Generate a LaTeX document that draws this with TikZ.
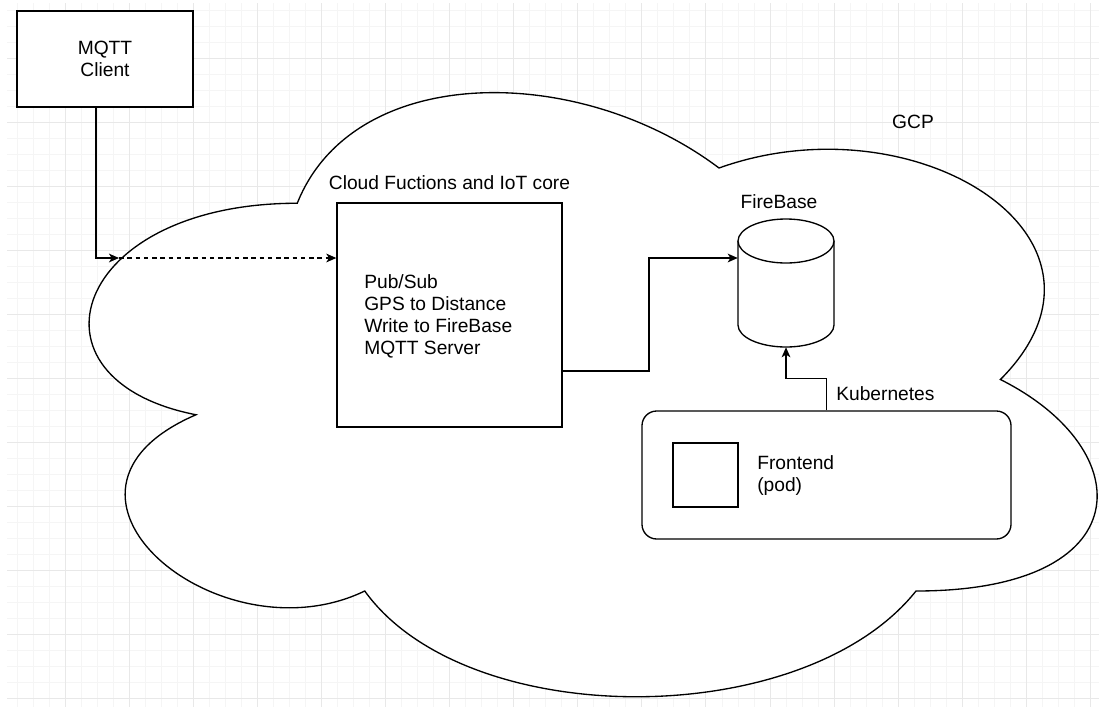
\documentclass[tikz,border=0pt]{standalone}
\usepackage{fontspec}
\setmainfont{Liberation Sans}
\usetikzlibrary{arrows.meta}

\tikzset{
  box/.style={draw, fill=white, line width=1pt, inner sep=0pt, font=\fontsize{14.4}{16.5}\selectfont},
  lbl/.style={inner sep=0pt, font=\fontsize{14.4}{16.5}\selectfont, align=left},
  arr/.style={-{Stealth[length=7.5pt,width=6.5pt,inset=2pt]}, line width=1pt},
  gridminor/.style={draw=black!4, line width=0.6pt},
  gridmajor/.style={draw=black!9, line width=0.6pt},
}

\begin{document}
\begin{tikzpicture}[x=0.75pt, y=-0.75pt]
    \useasboundingbox (0,0) rectangle (1099,707);
    \fill [white] (0,0) rectangle (1099,707);

    % background grid
    \foreach \i in {1,...,68}
      \draw [gridminor] ({1+16.02*\i},3) -- ({1+16.02*\i},707);
    \foreach \j in {1,...,44}
      \draw [gridminor] (7,{-6+16.02*\j}) -- (1099,{-6+16.02*\j});
    \foreach \i in {1,...,17}
      \draw [gridmajor] ({1+64.08*\i},3) -- ({1+64.08*\i},707);
    \foreach \j in {1,...,11}
      \draw [gridmajor] (7,{-6+64.08*\j}) -- (1099,{-6+64.08*\j});

    % GCP cloud
    \draw [line width=1pt, fill=white] (297.25,203.25)
      .. controls (72.25,203.25) and (16,379.5) .. (196,414.75)
      .. controls (16,492.3) and (218.5,661.5) .. (364.75,591)
      .. controls (466,732) and (803.5,732) .. (916,591)
      .. controls (1141,591) and (1141,450) .. (1000.4,379.5)
      .. controls (1141,238.5) and (916,97.5) .. (719,168)
      .. controls (578.5,62.25) and (353.5,62.25) .. (297.25,203.25) -- cycle;
    \node [lbl] (gcp) at (913,122) {GCP};

    % MQTT client
    \node [box, align=center, minimum width=132pt, minimum height=72pt] (mqtt) at (105,59) {MQTT\\Client};

    % cloud functions
    \node [box, minimum width=168.75pt, minimum height=168pt] (func) at (449.5,315) {};
    \node [lbl] (funcname) at (449.5,183) {Cloud Fuctions and IoT core};
    \node [lbl, anchor=west] (functext) at (364,316) {Pub/Sub\\GPS to Distance\\Write to FireBase\\MQTT Server};

    % firebase
    \draw [line width=1pt, fill=white] (738,241) -- (738,325) arc [start angle=180, end angle=0, x radius=48, y radius=22] -- (834,241);
    \draw [line width=1pt, fill=white] (786,241) ellipse [x radius=48, y radius=22];
    \node [minimum width=72pt, minimum height=96pt, inner sep=0pt] (db) at (786,283) {};
    \node [lbl] (dbname) at (779,202) {FireBase};

    % kubernetes
    \node [box, rounded corners=11pt, minimum width=276.75pt, minimum height=96pt] (kube) at (826.5,475) {};
    \node [lbl, anchor=west] (kubename) at (836,394) {Kubernetes};
    \node [box, minimum width=48.75pt, minimum height=48pt] (pod) at (705.5,475) {};
    \node [lbl, anchor=west] (podname) at (757,476) {Frontend\\(pod)};

    % connectors
    \coordinate (entry) at (119,258);
    \draw [arr] ([xshift=-6.75pt]mqtt.south) |- (entry);
    \draw [arr, dash pattern=on 3.4pt off 2.8pt] (entry) -- (entry -| func.west);
    \draw [arr] ([yshift=-42pt]func.east) -- (649,371) |- ([yshift=18.75pt]db.west);
    \draw [arr] (kube.north) -- ++(0,-32) -| (db.south);
  \end{tikzpicture}
\end{document}
